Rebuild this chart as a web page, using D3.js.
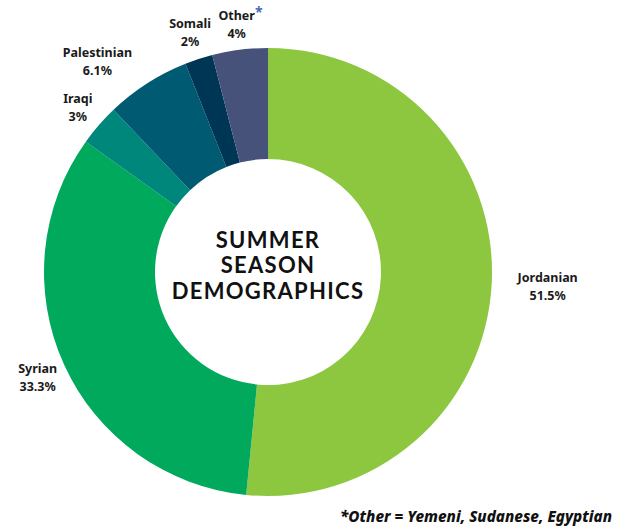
<!DOCTYPE html>
<html>
<head>
<meta charset="utf-8">
<script src="https://cdn.jsdelivr.net/npm/d3@7"></script>
<style>
  body { margin: 0; background: #fff; }
  svg { display: block; }
</style>
</head>
<body>
<svg id="chart"></svg>
<script>
// data
var groups = ["Jordanian", "Syrian", "Iraqi", "Palestinian", "Somali", "Other"];
var shares = [51.5, 33.3, 3, 6.1, 2, 4];
var shareLabels = ["51.5%", "33.3%", "3%", "6.1%", "2%", "4%"];
var colors = ["#8dc63f", "#00a95c", "#00877b", "#005b72", "#003655", "#46527a"];
var titleLines = ["SUMMER", "SEASON", "DEMOGRAPHICS"];
var footnote = "*Other = Yemeni, Sudanese, Egyptian";

var width = 624, height = 528;
var cx = 268, cy = 272;
var outerR = 224, innerR = 113;

// label distance from centre (and a small turn in degrees), per slice like the original
var labelR = {Jordanian: 280, Syrian: 253, Iraqi: 252, Palestinian: 271, Somali: 252, Other: 250};
var labelTurn = {Palestinian: -6.4};

var labelFont = "'Noto Sans', Lato, sans-serif";

var svg = d3.select("#chart")
    .attr("width", width)
    .attr("height", height)
    .attr("font-family", "Lato, 'Noto Sans', sans-serif");

var pie = d3.pie().sort(null).value(d => d.value);
var data = groups.map((g, i) => ({name: g, value: shares[i], label: shareLabels[i], color: colors[i]}));
var arcs = pie(data);

var arc = d3.arc().innerRadius(innerR).outerRadius(outerR);

var g = svg.append("g").attr("transform", "translate(" + cx + "," + cy + ")");

g.selectAll("path")
  .data(arcs)
  .join("path")
    .attr("d", arc)
    .attr("fill", d => d.data.color);

// slice labels
var lab = g.selectAll("text.lab")
  .data(arcs)
  .join("text")
    .attr("class", "lab")
    .attr("text-anchor", "middle")
    .attr("font-family", labelFont)
    .attr("font-size", 12.5)
    .attr("font-weight", 700)
    .attr("fill", "#1a1a1a")
    .attr("transform", function(d) {
      var a = (d.startAngle + d.endAngle) / 2 + (labelTurn[d.data.name] || 0) * Math.PI / 180;
      var r = labelR[d.data.name];
      return "translate(" + (Math.sin(a) * r) + "," + (-Math.cos(a) * r) + ")";
    });

lab.append("tspan")
    .attr("class", "nm")
    .attr("x", 0)
    .attr("y", -4)
    .text(d => d.data.name);

lab.append("tspan")
    .attr("x", 0)
    .attr("y", 14)
    .text(d => d.data.label);

// blue asterisk after "Other", kept out of the centring
g.selectAll("text.lab")
  .filter(d => d.data.name == "Other")
  .each(function() {
    var t = d3.select(this);
    var w = t.select("tspan.nm").node().getComputedTextLength();
    t.append("tspan")
      .attr("x", w / 2 + 4)
      .attr("y", -7)
      .attr("fill", "#4a6cb3")
      .attr("font-size", 14)
      .text("*");
  });

// centre title
g.append("text")
    .attr("text-anchor", "middle")
    .attr("font-size", 22)
    .attr("font-weight", 700)
    .attr("letter-spacing", 1.3)
    .attr("fill", "#111")
  .selectAll("tspan")
  .data(titleLines)
  .join("tspan")
    .attr("x", 0)
    .attr("y", (d, i) => (i - 1) * 25.5 + 1)
    .text(d => d);

// footnote
svg.append("text")
    .attr("x", 340)
    .attr("y", 522)
    .attr("textLength", 272)
    .attr("lengthAdjust", "spacingAndGlyphs")
    .attr("font-family", labelFont)
    .attr("font-size", 15)
    .attr("font-weight", 800)
    .attr("font-style", "italic")
    .attr("fill", "#111")
    .text(footnote);
</script>
</body>
</html>
